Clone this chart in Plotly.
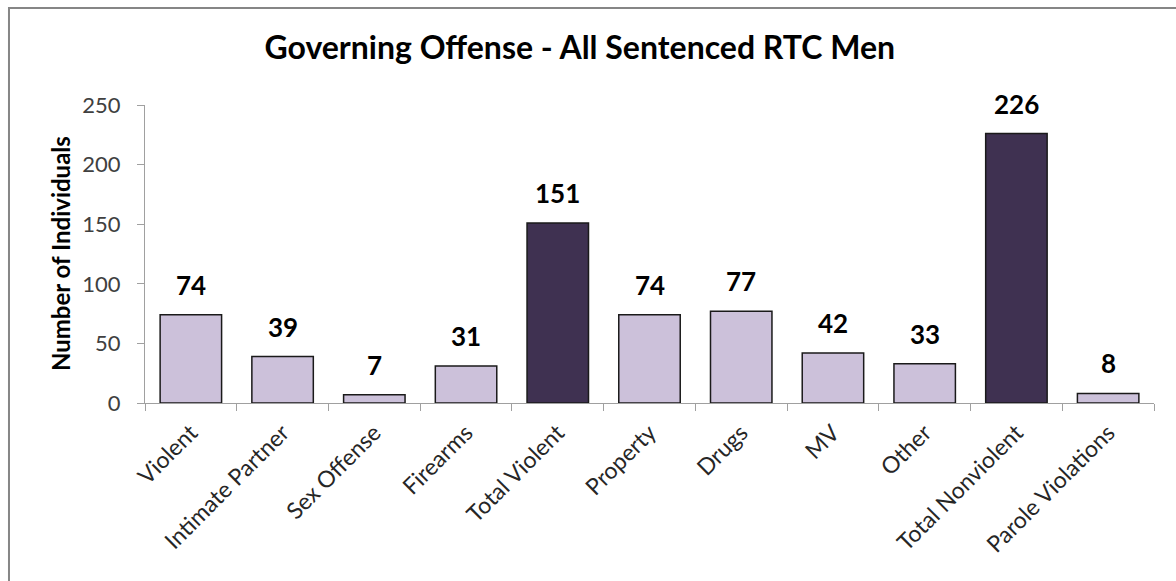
import plotly.graph_objects as go

categories = ["Violent", "Intimate Partner", "Sex Offense", "Firearms", "Total Violent",
              "Property", "Drugs", "MV", "Other", "Total Nonviolent", "Parole Violations"]
values = [74, 39, 7, 31, 151, 74, 77, 42, 33, 226, 8]
is_total = [False, False, False, False, True, False, False, False, False, True, False]
y_ticks = [0, 50, 100, 150, 200, 250]

LIGHT = "#CCC1DA"
DARK = "#3F3151"
colors = [DARK if t else LIGHT for t in is_total]
FONT = "Lato"

fig = go.Figure()
fig.add_trace(go.Bar(
    x=categories, y=values,
    marker=dict(color=colors, line=dict(color="#1a1a1a", width=1.5)),
    width=0.67, showlegend=False, hoverinfo="x+y",
))

for c, v in zip(categories, values):
    fig.add_annotation(x=c, y=v, text=f"<b>{v}</b>", showarrow=False,
                       yanchor="bottom", yshift=12,
                       font=dict(family=FONT, size=26, color="black"))

fig.add_annotation(xref="paper", yref="paper", x=-0.0842, y=0.5,
                   text="<b>Number of Individuals</b>", textangle=-90,
                   showarrow=False, xanchor="center", yanchor="middle",
                   font=dict(family=FONT, size=24, color="black"))

# outer chart border (extends beyond the window on right and bottom)
fig.add_shape(type="rect", xref="paper", yref="paper",
              x0=-0.1348, x1=1.03, y0=-0.65, y1=1.3255,
              line=dict(color="#868686", width=2), fillcolor="rgba(0,0,0,0)",
              layer="below")

fig.update_layout(
    width=1176, height=581,
    margin=dict(l=145, r=22, t=105, b=178),
    paper_bgcolor="white", plot_bgcolor="white",
    title=dict(text="<b>Governing Offense - All Sentenced RTC Men</b>",
               x=0.493, xref="container", y=1 - 48 / 581, yref="container",
               xanchor="center", yanchor="middle",
               font=dict(family=FONT, size=32, color="black")),
    bargap=0.33,
    font=dict(family=FONT),
)
fig.update_yaxes(range=[0, 250], tickvals=y_ticks, showgrid=False, zeroline=False,
                 showline=True, linecolor="#A0A0A0", linewidth=1.3,
                 ticks="outside", ticklen=7, tickcolor="#A0A0A0", ticklabelstandoff=12,
                 tickfont=dict(family=FONT, size=22, color="#404040"))
fig.update_xaxes(showgrid=False, showline=True, linecolor="#A0A0A0", linewidth=1.3,
                 ticks="outside", ticklen=7, tickcolor="#A0A0A0", tickson="boundaries",
                 ticklabelstandoff=6,
                 tickangle=-45, tickfont=dict(family=FONT, size=23, color="#262626"))

fig.write_html("out.html")
